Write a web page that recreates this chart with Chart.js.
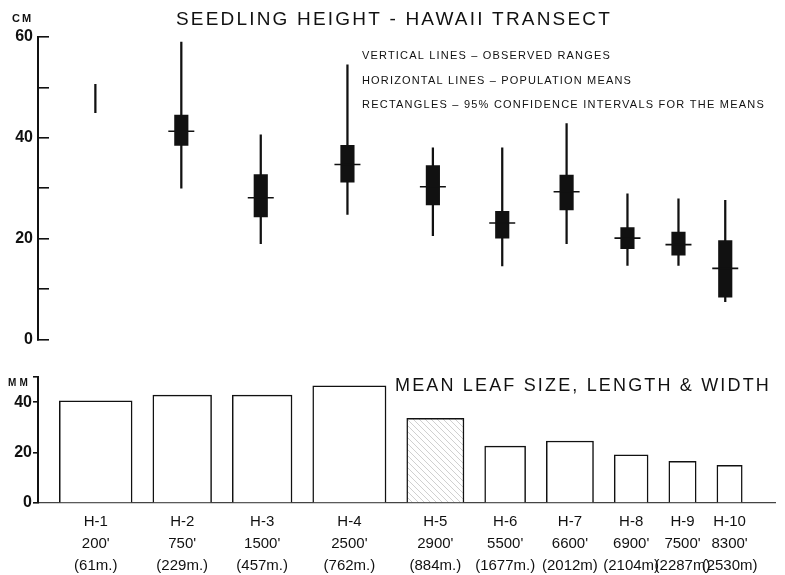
<!DOCTYPE html>
<html>
<head>
<meta charset="utf-8">
<script src="https://cdn.jsdelivr.net/npm/chart.js@4.4.0/dist/chart.umd.min.js"></script>
<style>
  body { margin: 0; background: #fff; }
  #wrap { position: relative; width: 785px; height: 575px; }
  canvas { position: absolute; left: 0; }
</style>
</head>
<body>
<div id="wrap">
  <canvas id="heightChart" width="785" height="365" style="top:0"></canvas>
  <canvas id="leafChart" width="785" height="215" style="top:360px"></canvas>
</div>
<script>
// stations along the transect
const sites = ["H-1", "H-2", "H-3", "H-4", "H-5", "H-6", "H-7", "H-8", "H-9", "H-10"];
const elevFeet = ["200'", "750'", "1500'", "2500'", "2900'", "5500'", "6600'", "6900'", "7500'", "8300'"];
const elevMeters = ["(61m.)", "(229m.)", "(457m.)", "(762m.)", "(884m.)", "(1677m.)", "(2012m)", "(2104m)", "(2287m)", "(2530m)"];

// seedling height, cm
const rangeMin = [45.0, 30.0, 19.0, 24.8, 20.6, 14.6, 19.0, 14.7, 14.7, 7.5];
const rangeMax = [50.6, 59.0, 40.6, 54.5, 38.0, 38.0, 42.8, 28.9, 27.9, 27.6];
const meanHeight = [null, 41.3, 28.1, 34.7, 30.3, 23.1, 29.3, 20.1, 18.8, 14.1];
const ciLow = [null, 38.5, 24.3, 31.2, 26.7, 20.1, 25.7, 18.0, 16.7, 8.4];
const ciHigh = [null, 44.5, 32.7, 38.5, 34.5, 25.4, 32.6, 22.2, 21.3, 19.6];
const heightTicks = [0, 20, 40, 60];

// mean leaf size, mm (bar height = length, bar width = width)
const leafLength = [40.5, 42.8, 42.8, 46.5, 33.6, 22.6, 24.6, 19.1, 16.5, 14.9];
const leafWidth = [29.0, 23.4, 23.8, 29.2, 22.8, 16.3, 18.8, 13.5, 10.9, 10.1];
const leafTicks = [0, 20, 40];

const titleTop = "SEEDLING HEIGHT - HAWAII TRANSECT";
const notes = [
  "VERTICAL LINES \u2013 OBSERVED RANGES",
  "HORIZONTAL LINES \u2013 POPULATION MEANS",
  "RECTANGLES \u2013 95% CONFIDENCE INTERVALS FOR THE MEANS"
];
const titleBottom = "MEAN LEAF SIZE, LENGTH & WIDTH";

const INK = "#111";
const FONT = "'Liberation Sans', Arial, sans-serif";

// bars sit side by side, each as wide as its leaf, with a constant gap
const GAP = 8.25, START = 8.5, X_MAX = 293.6;
const siteX = [];
let edge = START;
leafWidth.forEach(w => { siteX.push(edge + w / 2); edge += w + GAP; });

// draw text stretched to a given width
function spacedText(ctx, text, x, y, width, font) {
  ctx.save();
  ctx.font = font;
  ctx.fillStyle = INK;
  ctx.letterSpacing = "0px";
  const w = ctx.measureText(text).width;
  ctx.letterSpacing = ((width - w) / text.length) + "px";
  ctx.textBaseline = "middle";
  ctx.fillText(text, x, y);
  ctx.restore();
}

const topText = {
  id: "topText",
  afterDraw(chart) {
    const ctx = chart.ctx;
    spacedText(ctx, "CM", 12, 19, 21, "bold 11px " + FONT);
    spacedText(ctx, titleTop, 176, 20, 436, "19px " + FONT);
    spacedText(ctx, notes[0], 362, 56, 249, "11px " + FONT);
    spacedText(ctx, notes[1], 362, 81, 270, "11px " + FONT);
    spacedText(ctx, notes[2], 362, 105, 403, "11px " + FONT);
  }
};

const bottomText = {
  id: "bottomText",
  afterDraw(chart) {
    const ctx = chart.ctx;
    spacedText(ctx, "MM", 8, 23, 23, "bold 10px " + FONT);
    spacedText(ctx, titleBottom, 395, 26, 376, "18px " + FONT);
  }
};

function fitWidth(scale) { scale.width = 38; }

// ---- seedling height ----
new Chart(document.getElementById("heightChart"), {
  type: "bar",
  data: {
    datasets: [
      {
        label: "Mean",
        type: "scatter",
        data: sites.map((s, i) => ({ x: siteX[i], y: meanHeight[i] })).filter(p => p.y !== null),
        pointStyle: "line",
        radius: 13,
        borderWidth: 1.6,
        borderColor: INK,
        order: 0
      },
      {
        label: "95% CI",
        data: sites.map((s, i) => ({ x: siteX[i], y: [ciLow[i], ciHigh[i]] })).filter(p => p.y[0] !== null),
        backgroundColor: INK,
        barThickness: 13.5,
        grouped: false,
        order: 1
      },
      {
        label: "Observed range",
        data: sites.map((s, i) => ({ x: siteX[i], y: [rangeMin[i], rangeMax[i]] })),
        backgroundColor: INK,
        barThickness: 1.6,
        grouped: false,
        order: 2
      }
    ]
  },
  options: {
    responsive: false,
    animation: false,
    layout: { padding: { top: 37, bottom: 15, left: 0, right: 10 } },
    plugins: { legend: { display: false }, tooltip: { enabled: false } },
    scales: {
      x: { type: "linear", min: 0, max: X_MAX, offset: false, display: false },
      y: {
        min: 0,
        max: 60,
        afterFit: fitWidth,
        border: { color: INK, width: 2 },
        grid: { drawOnChartArea: false, tickLength: -11, color: INK, lineWidth: 1.6 },
        ticks: {
          stepSize: 10,
          padding: 16,
          color: INK,
          font: { family: FONT, size: 16, weight: "bold" },
          callback: v => heightTicks.includes(v) ? v : ""
        }
      }
    }
  },
  plugins: [topText]
});

// ---- mean leaf size ----
const hatch = (() => {
  const c = document.createElement("canvas");
  c.width = 6; c.height = 6;
  const g = c.getContext("2d");
  g.fillStyle = "#fff";
  g.fillRect(0, 0, 6, 6);
  g.strokeStyle = "#c4c4c4";
  g.lineWidth = 0.8;
  g.beginPath();
  g.moveTo(0, 0); g.lineTo(6, 6);
  g.stroke();
  return g.createPattern(c, "repeat");
})();

function unitPx(chart) {
  const sx = chart.scales.x;
  return sx ? sx.getPixelForValue(1) - sx.getPixelForValue(0) : 2.5;
}

new Chart(document.getElementById("leafChart"), {
  type: "bar",
  data: {
    datasets: sites.map((s, i) => ({
      label: s,
      data: [{ x: siteX[i], y: leafLength[i] }],
      barThickness: ctx => leafWidth[i] * unitPx(ctx.chart),
      grouped: false,
      backgroundColor: i === 4 ? hatch : "#fff",
      borderColor: INK,
      borderWidth: 1.5
    }))
  },
  options: {
    responsive: false,
    animation: false,
    layout: { padding: { top: 17, bottom: 0, left: 0, right: 10 } },
    plugins: { legend: { display: false }, tooltip: { enabled: false } },
    scales: {
      x: {
        type: "linear",
        min: 0,
        max: X_MAX,
        offset: false,
        afterFit: scale => { scale.height = 72; },
        afterBuildTicks: scale => { scale.ticks = siteX.map(v => ({ value: v })); },
        border: { color: "#444", width: 1.2, dash: [3, 2] },
        grid: { drawOnChartArea: false, drawTicks: false },
        ticks: {
          autoSkip: false,
          maxRotation: 0,
          minRotation: 0,
          padding: 8,
          color: INK,
          font: { family: FONT, size: 15, lineHeight: 1.47 },
          callback: (v, i) => [sites[i], elevFeet[i], elevMeters[i]]
        }
      },
      y: {
        min: 0,
        max: 50,
        afterFit: fitWidth,
        border: { color: INK, width: 2 },
        grid: { drawOnChartArea: false, tickLength: 5, color: INK, lineWidth: 1.6 },
        ticks: {
          stepSize: 20,
          padding: 1,
          color: INK,
          font: { family: FONT, size: 16, weight: "bold" },
          callback: v => leafTicks.includes(v) ? v : ""
        }
      }
    }
  },
  plugins: [bottomText]
});
</script>
</body>
</html>
